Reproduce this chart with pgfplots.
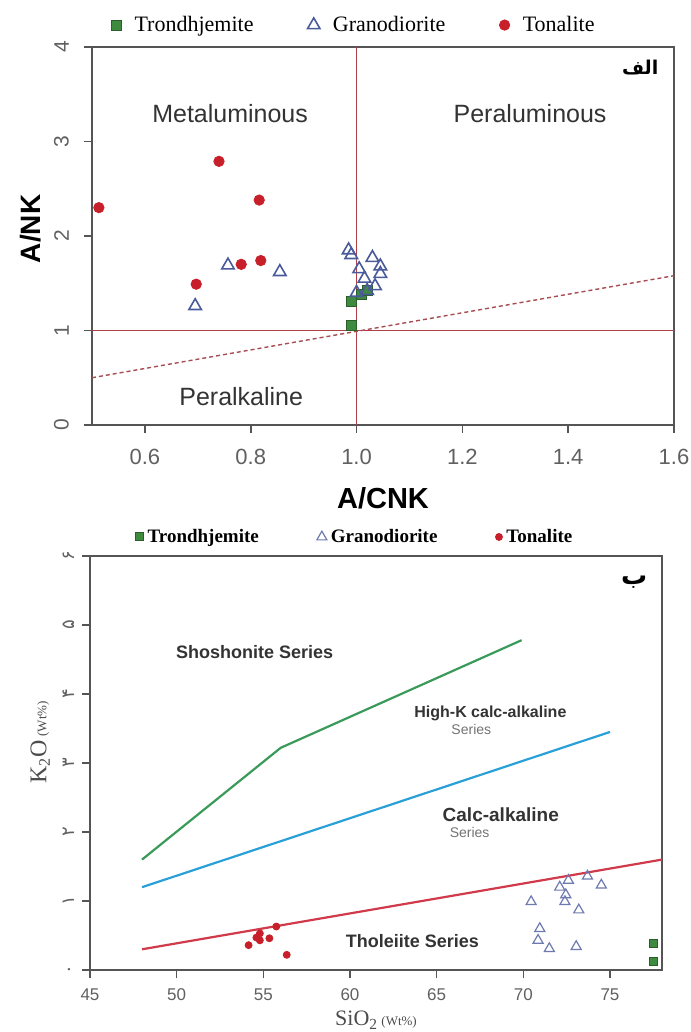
\documentclass[border=0pt]{standalone}
\usepackage{pgfplots}
\pgfplotsset{compat=1.18}
\usepackage{fontspec}
\setmainfont{Liberation Serif}
\setsansfont{Liberation Sans}
\newfontfamily\arabicfont[Script=Arabic]{DejaVu Sans}
\TeXXeTstate=1
\definecolor{frame}{HTML}{555555}
\definecolor{tred}{HTML}{C8202A}
\definecolor{gblue}{HTML}{4A5A9A}
\definecolor{tgreen}{HTML}{3E8A3E}
\definecolor{tgreend}{HTML}{2A5E2A}
\definecolor{lred}{HTML}{B04048}
\definecolor{lgreen}{HTML}{3A9A5A}
\definecolor{lblue}{HTML}{2AA0D8}
\definecolor{lred2}{HTML}{D03A4A}
\definecolor{ticktxt}{HTML}{606060}
\begin{document}
\begin{tikzpicture}[x=1pt,y=1pt]
\useasboundingbox (0,0) rectangle (345,516);
% ---------------- top panel ----------------
\begin{axis}[at={(46pt,303.5pt)}, anchor=south west, scale only axis,
  width=291pt, height=189pt,
  xmin=0.5, xmax=1.6, ymin=0, ymax=4,
  xtick={0.6,0.8,1.0,1.2,1.4,1.6}, xticklabels={0.6,0.8,1.0,1.2,1.4,1.6},
  ytick={0,1,2,3,4}, yticklabels={0,1,2,3,4},
  tick pos=left, tick align=outside, major tick length=4pt,
  every tick/.style={frame, line width=0.8pt},
  axis line style={frame, line width=0.9pt},
  ticklabel style={font=\sffamily\fontsize{11}{12}\selectfont, text=ticktxt},
  xticklabel style={yshift=-4.5pt},
  yticklabel style={font=\sffamily\fontsize{10.5}{12}\selectfont, rotate=90, anchor=south, yshift=4pt},
  xlabel={A/CNK}, ylabel={A/NK},
  xlabel style={font=\sffamily\bfseries\fontsize{14.5}{16}\selectfont, at={(axis description cs:0.5,-0.193)}, anchor=center},
  ylabel style={font=\sffamily\bfseries\fontsize{14}{16}\selectfont, at={(axis description cs:-0.106,0.519)}, anchor=center, rotate=0},
  legend style={at={(rel axis cs:0.452,1.058)}, anchor=center, draw=none, fill=none,
    font=\fontsize{11}{12}\selectfont, legend columns=3,
    /tikz/every odd column/.append style={column sep=4.5pt},
    /tikz/every even column/.append style={column sep=25pt}},
  legend cell align=left,
  clip=false,
]
\addplot[lred, line width=0.6pt, forget plot] coordinates {(0.5,1)(1.6,1)};
\addplot[lred, line width=0.6pt, forget plot] coordinates {(1.0,0)(1.0,4)};
\addplot[lred!80!gray, line width=0.7pt, dashed, dash pattern=on 2pt off 1.5pt, forget plot] coordinates {(0.5,0.5)(1.6,1.58)};
\addplot[only marks, mark=square*, mark size=2.5pt, mark options={fill=tgreen, draw=tgreend, line width=0.5pt}]
 coordinates {(0.99,1.05)(0.99,1.31)(1.01,1.38)(1.02,1.42)};
\addlegendentry{Trondhjemite}
\addplot[only marks, mark=triangle, mark size=3.6pt, mark options={draw=gblue, line width=0.8pt}]
 coordinates {(0.695,1.26)(0.757,1.69)(0.855,1.62)(0.985,1.85)(0.99,1.80)(1.03,1.77)(1.005,1.65)(1.045,1.68)(1.045,1.60)(1.015,1.55)(1.035,1.47)(1.02,1.42)(1.00,1.40)};
\addlegendentry{Granodiorite}
\addplot[only marks, mark=*, mark size=2.6pt, mark options={fill=tred, draw=tred}]
 coordinates {(0.513,2.30)(0.740,2.79)(0.816,2.38)(0.697,1.49)(0.782,1.70)(0.819,1.74)};
\addlegendentry{Tonalite}
\node[font=\sffamily\fontsize{12.5}{14}\selectfont, text=black!80] at (axis cs:0.761,3.30) {Metaluminous};
\node[font=\sffamily\fontsize{12.5}{14}\selectfont, text=black!80] at (axis cs:1.328,3.30) {Peraluminous};
\node[font=\sffamily\fontsize{12.5}{14}\selectfont, text=black!80] at (axis cs:0.782,0.30) {Peralkaline};
\node[font=\arabicfont\bfseries\fontsize{9.5}{11}\selectfont] at (axis cs:1.536,3.78) {\beginR الف\endR};
\end{axis}
% ---------------- bottom panel ----------------
\begin{axis}[at={(45pt,31pt)}, anchor=south west, scale only axis,
  width=286pt, height=207pt,
  xmin=45, xmax=78, ymin=0, ymax=6,
  xtick={45,50,...,75}, xticklabels={45,50,55,60,65,70,75},
  ytick={0,1,...,6},
  yticklabels={۰,۱,۲,۳,۴,۵,۶},
  tick pos=left, tick align=outside, major tick length=4pt,
  every tick/.style={frame, line width=0.8pt},
  axis line style={frame, line width=0.9pt},
  xticklabel style={font=\sffamily\fontsize{8.5}{10}\selectfont, text=ticktxt, yshift=-2pt},
  yticklabel style={font=\arabicfont\fontsize{9}{10}\selectfont, text=ticktxt, rotate=90, anchor=south},
  xlabel={{\fontsize{11}{12}\selectfont SiO\textsubscript{2}}\,{\fontsize{6.5}{7}\selectfont (Wt\%)}},
  ylabel={{\fontsize{12}{13}\selectfont K\textsubscript{2}O}\,{\fontsize{6.5}{7}\selectfont (Wt\%)}},
  xlabel style={text=black!70, at={(axis description cs:0.5,-0.121)}, anchor=center},
  ylabel style={text=black!70, at={(axis description cs:-0.087,0.55)}, anchor=center, rotate=0},
  legend style={at={(rel axis cs:0.465,1.046)}, anchor=center, draw=none, fill=none,
    font=\bfseries\fontsize{9.5}{10}\selectfont, legend columns=3,
    /tikz/every even column/.append style={column sep=27pt}},
  legend cell align=left,
]
\addplot[lgreen, line width=1.1pt, forget plot] coordinates {(48,1.6)(56,3.22)(69.9,4.78)};
\addplot[lblue, line width=1.1pt, forget plot] coordinates {(48,1.2)(75.0,3.45)};
\addplot[lred2, line width=1.1pt, forget plot] coordinates {(48,0.3)(78,1.6)};
\addplot[only marks, mark=square*, mark size=2pt, mark options={fill=tgreen, draw=tgreend, line width=0.5pt}]
 coordinates {(77.5,0.38)(77.5,0.12)};
\addlegendentry{Trondhjemite}
\addplot[only marks, mark=triangle, mark size=2.9pt, mark options={draw=gblue!80, line width=0.6pt}]
 coordinates {(70.45,0.99)(70.95,0.60)(70.85,0.43)(71.5,0.31)(72.1,1.20)(72.6,1.30)(72.4,0.99)(72.45,1.09)(73.2,0.87)(73.05,0.34)(73.7,1.36)(74.5,1.23)};
\addlegendentry{Granodiorite}
\addplot[only marks, mark=*, mark size=1.75pt, mark options={fill=tred, draw=tred}]
 coordinates {(54.15,0.36)(54.6,0.47)(54.8,0.53)(54.8,0.43)(55.35,0.46)(55.75,0.63)(56.35,0.22)};
\addlegendentry{Tonalite}
\node[font=\sffamily\bfseries\fontsize{9}{10}\selectfont, text=black!80] at (axis cs:54.5,4.61) {Shoshonite Series};
\node[font=\sffamily\bfseries\fontsize{8}{9}\selectfont, text=black!80] at (axis cs:68.1,3.72) {High-K calc-alkaline};
\node[font=\sffamily\fontsize{7}{8}\selectfont, text=black!55] at (axis cs:67.0,3.49) {Series};
\node[font=\sffamily\bfseries\fontsize{9.5}{10}\selectfont, text=black!80] at (axis cs:68.7,2.25) {Calc-alkaline};
\node[font=\sffamily\fontsize{7}{8}\selectfont, text=black!55] at (axis cs:66.9,1.99) {Series};
\node[font=\sffamily\bfseries\fontsize{9}{10}\selectfont, text=black!80] at (axis cs:63.6,0.425) {Tholeiite Series};
\node[font=\arabicfont\bfseries\fontsize{13}{14}\selectfont] at (axis cs:76.4,5.62) {\beginR ب\endR};
\end{axis}
\end{tikzpicture}
\end{document}
